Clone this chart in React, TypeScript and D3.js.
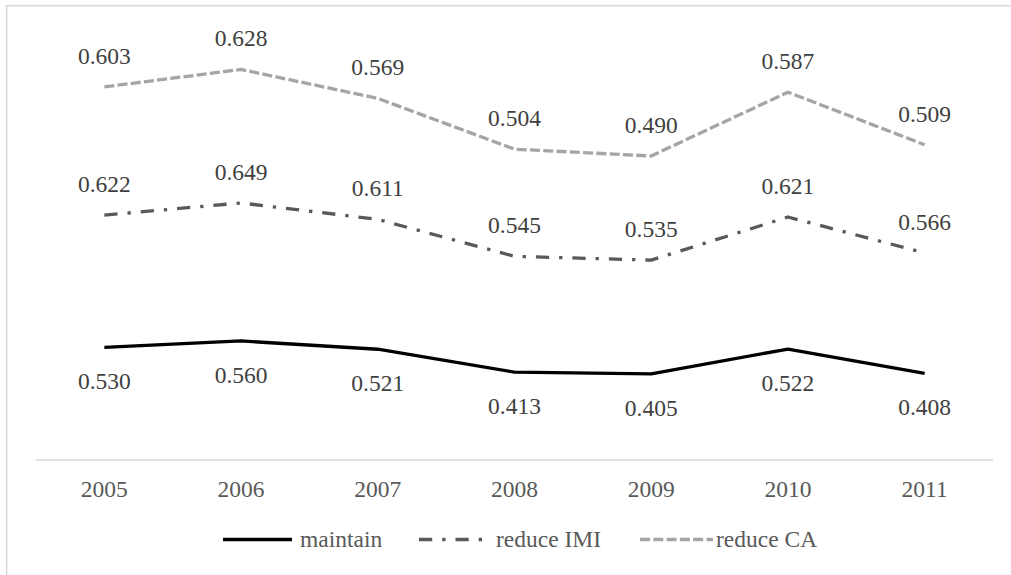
import React from "react";
import * as d3 from "d3";

const years = ["2005", "2006", "2007", "2008", "2009", "2010", "2011"];
const maintain = [0.53, 0.56, 0.521, 0.413, 0.405, 0.522, 0.408];
const reduceIMI = [0.622, 0.649, 0.611, 0.545, 0.535, 0.621, 0.566];
const reduceCA = [0.603, 0.628, 0.569, 0.504, 0.49, 0.587, 0.509];
const seriesNames = ["maintain", "reduce IMI", "reduce CA"];
const yDomain = [0, 2];

const W = 1011;
const H = 575;
const FONT = "'Liberation Serif', 'Times New Roman', serif";

const styles = [
  { color: "#000000", dash: "none", labelBelow: true },
  { color: "#595959", dash: "13.2 10 3.3 10", labelBelow: false },
  { color: "#A5A5A5", dash: "10 3.3", labelBelow: false },
];

export default function App() {
  const x = d3.scaleBand<string>().domain(years).range([36, 993]).padding(0);
  const cx = (y: string) => (x(y) as number) + x.bandwidth() / 2;
  const y = d3.scaleLinear().domain(yDomain).range([460, 460 - 2 * 212.6]);

  const rows = years.map((yr, i) => ({
    year: yr,
    [seriesNames[0]]: maintain[i],
    [seriesNames[1]]: reduceIMI[i],
    [seriesNames[2]]: reduceCA[i],
  }));
  const stacked = d3.stack<any>().keys(seriesNames)(rows);
  const raw = [maintain, reduceIMI, reduceCA];

  const line = d3
    .line<[number, number]>()
    .x((d) => d[0])
    .y((d) => d[1]);

  const legendItems = [
    { x1: 223, x2: 292, tx: 300 },
    { x1: 419, x2: 488, tx: 496 },
    { x1: 640, x2: 713, tx: 716 },
  ];

  return (
    <svg
      width={W}
      height={H}
      style={{ position: "absolute", left: 0, top: 0, background: "#fff" }}
    >
      <rect x={0} y={0} width={W} height={H} fill="#fff" />
      <rect
        x={6.7}
        y={5.7}
        width={1200}
        height={800}
        fill="none"
        stroke="#d9d9d9"
        strokeWidth={1.5}
      />
      <line x1={36} x2={993} y1={y(0)} y2={y(0)} stroke="#d9d9d9" strokeWidth={1.6} />
      {years.map((yr) => (
        <text
          key={yr}
          x={cx(yr)}
          y={497}
          textAnchor="middle"
          fontFamily={FONT}
          fontSize={23.5}
          fill="#595959"
        >
          {yr}
        </text>
      ))}
      {stacked.map((s, si) => {
        const pts: [number, number][] = s.map((d, i) => [cx(years[i]), y(d[1])]);
        const st = styles[si];
        return (
          <g key={seriesNames[si]}>
            <path
              d={line(pts) || ""}
              fill="none"
              stroke={st.color}
              strokeWidth={3.3}
              strokeDasharray={st.dash}
              strokeLinejoin="round"
            />
            {pts.map((p, i) => (
              <text
                key={i}
                x={p[0]}
                y={st.labelBelow ? p[1] + 42 : p[1] - 23}
                textAnchor="middle"
                fontFamily={FONT}
                fontSize={23.5}
                fill="#404040"
              >
                {raw[si][i].toFixed(3)}
              </text>
            ))}
          </g>
        );
      })}
      {legendItems.map((li, i) => (
        <g key={seriesNames[i]}>
          <line
            x1={li.x1}
            x2={li.x2}
            y1={539.5}
            y2={539.5}
            stroke={styles[i].color}
            strokeWidth={3.3}
            strokeDasharray={styles[i].dash}
          />
          <text
            x={li.tx}
            y={547}
            fontFamily={FONT}
            fontSize={23.5}
            fill="#595959"
          >
            {seriesNames[i]}
          </text>
        </g>
      ))}
    </svg>
  );
}
